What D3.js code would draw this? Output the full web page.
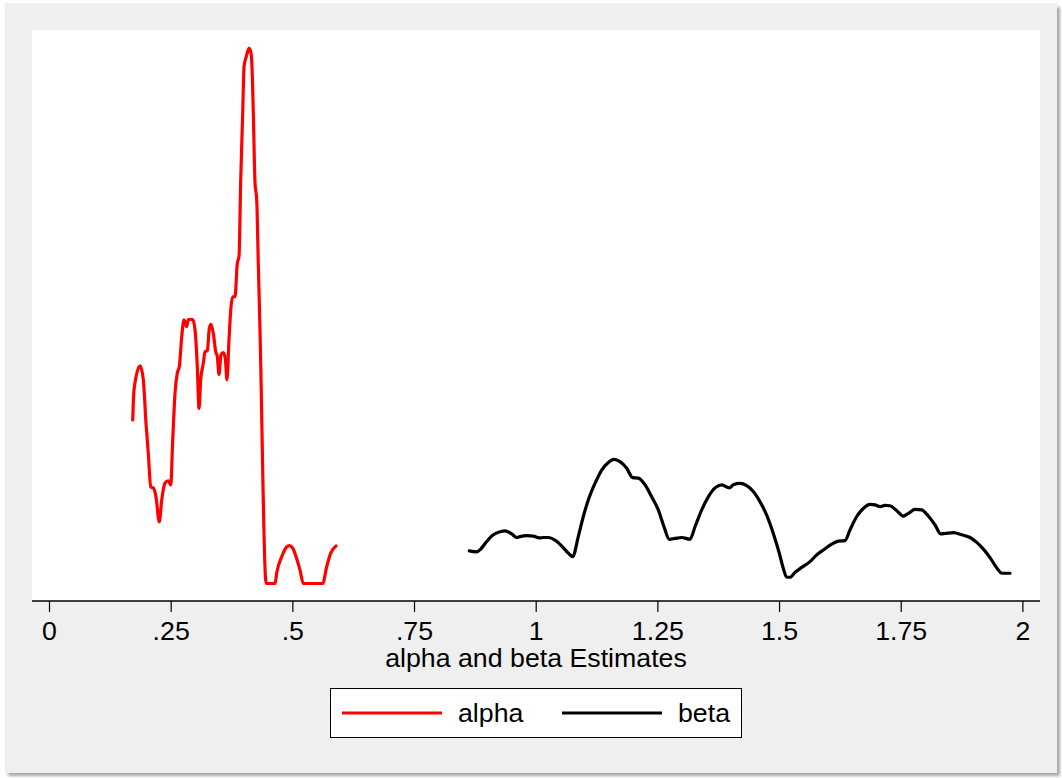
<!DOCTYPE html>
<html>
<head>
<meta charset="utf-8">
<script src="https://cdn.jsdelivr.net/npm/d3@7"></script>
<style>
  html, body { margin: 0; padding: 0; background: #ffffff; }
  svg { display: block; font-family: "Liberation Sans", Arial, sans-serif; }
</style>
</head>
<body>
<svg id="chart" width="1062" height="778"></svg>
<script>
// Kernel density estimates of alpha and beta (x = estimate, y = density)
const alphaX = [0.1720, 0.1746, 0.1870, 0.1938, 0.1993, 0.2040, 0.2090, 0.2143, 0.2198, 0.2266,
  0.2316, 0.2383, 0.2451, 0.2501, 0.2542, 0.2589, 0.2636, 0.2677, 0.2727, 0.2774,
  0.2829, 0.2862, 0.2953, 0.3000, 0.3047, 0.3082, 0.3117, 0.3170, 0.3205, 0.3253,
  0.3294, 0.3329, 0.3376, 0.3425, 0.3458, 0.3493, 0.3534, 0.3581, 0.3622, 0.3657,
  0.3698, 0.3740, 0.3774, 0.3822, 0.3869, 0.3904, 0.3939, 0.3980, 0.4007, 0.4062,
  0.4109, 0.4144, 0.4171, 0.4198, 0.4233, 0.4268, 0.4300, 0.4335, 0.4452, 0.4473,
  0.4644, 0.4679, 0.4781, 0.4884, 0.4937, 0.5007, 0.5089, 0.5157, 0.5225, 0.5624,
  0.5706, 0.5788, 0.5897];
const alphaY = [3.66, 4.33, 4.87, 4.56, 3.59, 2.92, 2.16, 2.14, 1.94, 1.38,
  1.87, 2.25, 2.30, 2.21, 3.21, 4.26, 4.71, 4.85, 5.53, 5.90,
  5.75, 5.91, 5.91, 5.68, 4.85, 3.92, 4.56, 4.93, 5.19, 5.21,
  5.71, 5.80, 5.60, 5.19, 5.08, 4.68, 5.12, 5.17, 5.04, 4.56,
  5.45, 6.20, 6.42, 6.42, 7.17, 7.32, 9.03, 10.53, 11.57, 11.83,
  11.98, 11.91, 11.57, 10.53, 8.96, 8.59, 7.17, 5.68, 0.08, 0.00,
  0.00, 0.24, 0.60, 0.82, 0.85, 0.79, 0.56, 0.30, 0.00, 0.00,
  0.38, 0.68, 0.84];

const betaX = [0.8636, 0.8788, 0.8870, 0.8993, 0.9129, 0.9267, 0.9369, 0.9507, 0.9610, 0.9677,
  0.9815, 0.9951, 1.0074, 1.0156, 1.0259, 1.0397, 1.0534, 1.0670, 1.0760, 1.0875,
  1.0978, 1.1081, 1.1218, 1.1356, 1.1492, 1.1609, 1.1732, 1.1870, 1.1993, 1.2108,
  1.2246, 1.2383, 1.2519, 1.2636, 1.2745, 1.2862, 1.3000, 1.3170, 1.3273, 1.3411,
  1.3546, 1.3684, 1.3822, 1.3978, 1.4060, 1.4198, 1.4335, 1.4471, 1.4609, 1.4746,
  1.4882, 1.5005, 1.5087, 1.5157, 1.5225, 1.5328, 1.5466, 1.5636, 1.5774, 1.5909,
  1.6082, 1.6218, 1.6355, 1.6458, 1.6596, 1.6731, 1.6869, 1.6972, 1.7075, 1.7177,
  1.7280, 1.7418, 1.7553, 1.7656, 1.7793, 1.7931, 1.8067, 1.8205, 1.8322, 1.8410,
  1.8581, 1.8754, 1.8924, 1.9062, 1.9198, 1.9335, 1.9473, 1.9576, 1.9643, 1.9746];
const betaY = [0.73, 0.71, 0.77, 0.94, 1.09, 1.16, 1.18, 1.11, 1.03, 1.05,
  1.07, 1.06, 1.02, 1.03, 1.03, 0.97, 0.84, 0.68, 0.60, 1.05,
  1.50, 1.87, 2.24, 2.54, 2.71, 2.78, 2.73, 2.58, 2.37, 2.36,
  2.21, 1.94, 1.65, 1.27, 0.99, 1.01, 1.03, 0.99, 1.27, 1.65,
  1.94, 2.14, 2.21, 2.14, 2.21, 2.24, 2.19, 2.06, 1.83, 1.53,
  1.12, 0.68, 0.34, 0.14, 0.14, 0.25, 0.36, 0.49, 0.64, 0.75,
  0.88, 0.95, 0.96, 1.20, 1.50, 1.68, 1.77, 1.76, 1.72, 1.75,
  1.74, 1.63, 1.51, 1.57, 1.66, 1.65, 1.51, 1.31, 1.11, 1.12,
  1.14, 1.09, 1.03, 0.92, 0.77, 0.58, 0.35, 0.23, 0.23, 0.23];

const xTicks = [0, 0.25, 0.5, 0.75, 1, 1.25, 1.5, 1.75, 2];
const xTickLabels = ["0", ".25", ".5", ".75", "1", "1.25", "1.5", "1.75", "2"];
const seriesNames = ["alpha", "beta"];
const seriesColors = ["#ff0000", "#000000"];
const xTitle = "alpha and beta Estimates";

// Text is set slightly wide, as in the exported graph
const fontSize = 25;
const widen = "scale(1.07,1)";

const svg = d3.select("#chart");
const defs = svg.append("defs");
const blur = defs.append("filter").attr("id", "soft")
  .attr("x", "-5%").attr("y", "-5%").attr("width", "110%").attr("height", "110%");
blur.append("feGaussianBlur").attr("stdDeviation", 1.4);

// Graph region: light grey panel with a soft shadow on the lower right
svg.append("rect").attr("x", 8).attr("y", 7).attr("width", 1052).attr("height", 769)
  .attr("fill", "#a8a8a8").attr("filter", "url(#soft)");
svg.append("rect").attr("x", 5).attr("y", 3).attr("width", 1052).attr("height", 770)
  .attr("fill", "#efefef");

// Plot region
const plot = { left: 32, right: 1040, top: 30, bottom: 601 };
svg.append("rect").attr("x", plot.left).attr("y", plot.top)
  .attr("width", plot.right - plot.left).attr("height", plot.bottom - plot.top)
  .attr("fill", "#ffffff");

const x = d3.scaleLinear().domain([0, 2]).range([49, 1022.4]);
const y = d3.scaleLinear().domain([0, 12]).range([583.5, 47.5]);

const line = d3.line()
  .x(d => x(d[0])).y(d => y(d[1]))
  .curve(d3.curveMonotoneX);

const series = [
  d3.zip(alphaX, alphaY),
  d3.zip(betaX, betaY)
];

svg.append("g").selectAll("path").data(series).join("path")
  .attr("d", line)
  .attr("fill", "none")
  .attr("stroke", (d, i) => seriesColors[i])
  .attr("stroke-width", 3.2)
  .attr("stroke-linejoin", "round")
  .attr("stroke-linecap", "round");

// x axis
const axis = svg.append("g").attr("transform", `translate(0,${plot.bottom})`);
axis.append("line").attr("x1", plot.left).attr("x2", plot.right)
  .attr("y1", 0).attr("y2", 0).attr("stroke", "#000").attr("stroke-width", 1.5);
axis.call(g => {
  const ax = d3.axisBottom(x).tickValues(xTicks)
    .tickFormat((d, i) => xTickLabels[i]).tickSize(11).tickPadding(10);
  g.append("g").call(ax).call(s => s.select(".domain").remove())
    .call(s => s.selectAll(".tick line").attr("stroke", "#000").attr("stroke-width", 1.2))
    .call(s => s.selectAll(".tick text")
      .attr("fill", "#000").attr("font-size", fontSize)
      .attr("font-family", "Liberation Sans, Arial, sans-serif")
      .attr("transform", widen));
});

svg.append("text").attr("transform", `translate(536,667) ${widen}`)
  .attr("text-anchor", "middle").attr("font-size", fontSize).attr("fill", "#000")
  .text(xTitle);

// Legend
const legend = svg.append("g");
legend.append("rect").attr("x", 330.5).attr("y", 688.5).attr("width", 411).attr("height", 49)
  .attr("fill", "#fff").attr("stroke", "#000").attr("stroke-width", 1);
const keyX = [342, 562];
seriesNames.forEach((name, i) => {
  legend.append("line").attr("x1", keyX[i]).attr("x2", keyX[i] + 100)
    .attr("y1", 713).attr("y2", 713)
    .attr("stroke", seriesColors[i]).attr("stroke-width", 3);
  legend.append("text").attr("transform", `translate(${keyX[i] + 116},722) ${widen}`)
    .attr("font-size", fontSize).attr("fill", "#000").text(name);
});
</script>
</body>
</html>
